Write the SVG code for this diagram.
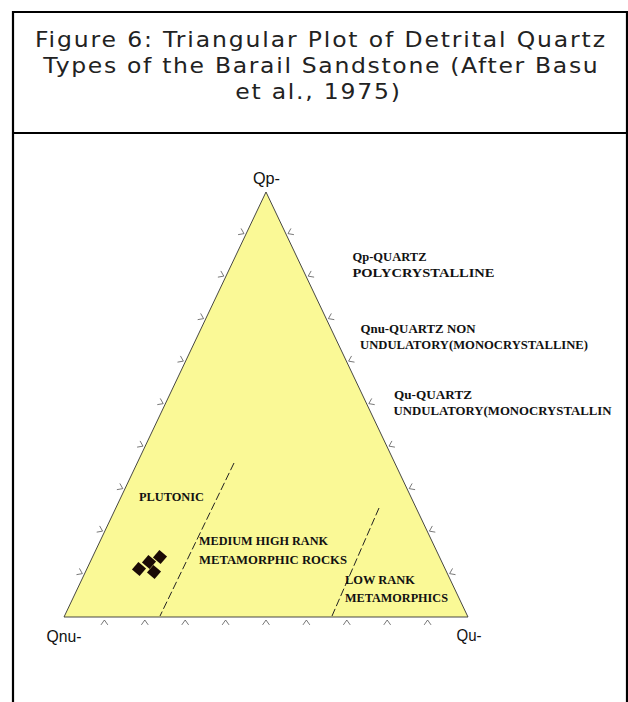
<svg xmlns="http://www.w3.org/2000/svg" xmlns:xlink="http://www.w3.org/1999/xlink" width="628" height="702" viewBox="0 0 628 702">
  <style>
    .frame { fill: none; stroke: #000; stroke-width: 2.2; }
    .title { font-family: "DejaVu Sans", "Liberation Sans", sans-serif; font-size: 21px; fill: #222; text-anchor: middle; }
    .tri { fill: #FAF996; stroke: #333; stroke-width: 0.9; }
    .tick { fill: none; stroke: #555; stroke-width: 0.8; }
    .bound { fill: none; stroke: #222; stroke-width: 1; stroke-dasharray: 8 3; }
    .apex { font-family: "Liberation Sans", Arial, sans-serif; font-size: 16px; fill: #111; }
    .lab { font-family: "Liberation Serif", "Times New Roman", serif; font-size: 12px; font-weight: bold; fill: #111; }
    .mk { fill: #1a0a05; }
  </style>
  <defs>
    <path id="tickL" class="tick" d="M-2.94,-5.21 L0,0 L-5.9,1.01"/>
    <path id="tickR" class="tick" d="M2.94,-5.21 L0,0 L5.9,1.01"/>
    <path id="tickB" class="tick" d="M-3.44,4.9 L0,0 L3.44,4.9"/>
    <rect id="diamond" x="-5" y="-5" width="10" height="10" transform="rotate(40)"/>
  </defs>
  <rect width="628" height="702" fill="#fff"/>

  <g id="frame">
    <path class="frame" d="M13,702 L13,12 L627,12 L627,702"/>
    <line class="frame" x1="13" y1="133" x2="627" y2="133"/>
  </g>

  <g id="title">
    <text class="title" transform="translate(320,47) scale(1.12,1)" textLength="509" lengthAdjust="spacing">Figure 6: Triangular Plot of Detrital Quartz</text>
    <text class="title" transform="translate(320.5,72.5) scale(1.12,1)" textLength="495" lengthAdjust="spacing">Types of the Barail Sandstone (After Basu</text>
    <text class="title" transform="translate(317.5,98.5) scale(1.12,1)" textLength="147" lengthAdjust="spacing">et al., 1975)</text>
  </g>

  <g id="plot">
    <polygon class="tri" points="266,192 468,617 64,617"/>
  </g>

  <g id="ticks">
    <use xlink:href="#tickL" x="82.39" y="573.64"/>
    <use xlink:href="#tickL" x="102.59" y="531.14"/>
    <use xlink:href="#tickL" x="122.79" y="488.64"/>
    <use xlink:href="#tickL" x="142.99" y="446.14"/>
    <use xlink:href="#tickL" x="163.19" y="403.64"/>
    <use xlink:href="#tickL" x="183.39" y="361.14"/>
    <use xlink:href="#tickL" x="203.59" y="318.64"/>
    <use xlink:href="#tickL" x="223.79" y="276.14"/>
    <use xlink:href="#tickL" x="243.99" y="233.64"/>
    <use xlink:href="#tickR" x="449.61" y="573.64"/>
    <use xlink:href="#tickR" x="429.41" y="531.14"/>
    <use xlink:href="#tickR" x="409.21" y="488.64"/>
    <use xlink:href="#tickR" x="389.01" y="446.14"/>
    <use xlink:href="#tickR" x="368.81" y="403.64"/>
    <use xlink:href="#tickR" x="348.61" y="361.14"/>
    <use xlink:href="#tickR" x="328.41" y="318.64"/>
    <use xlink:href="#tickR" x="308.21" y="276.14"/>
    <use xlink:href="#tickR" x="288.01" y="233.64"/>
    <use xlink:href="#tickB" x="104.4" y="620"/>
    <use xlink:href="#tickB" x="144.8" y="620"/>
    <use xlink:href="#tickB" x="185.2" y="620"/>
    <use xlink:href="#tickB" x="225.6" y="620"/>
    <use xlink:href="#tickB" x="266" y="620"/>
    <use xlink:href="#tickB" x="306.4" y="620"/>
    <use xlink:href="#tickB" x="346.8" y="620"/>
    <use xlink:href="#tickB" x="387.2" y="620"/>
    <use xlink:href="#tickB" x="427.6" y="620"/>
  </g>

  <g id="connectors">
    <line class="bound" x1="234" y1="463" x2="160" y2="616"/>
    <line class="bound" x1="379" y1="508" x2="332" y2="616"/>
  </g>

  <g id="apex-labels">
    <text class="apex" x="253" y="184" textLength="27" lengthAdjust="spacingAndGlyphs">Qp-</text>
    <text class="apex" x="46.5" y="641.5" textLength="35" lengthAdjust="spacingAndGlyphs">Qnu-</text>
    <text class="apex" x="456.5" y="640.5" textLength="25" lengthAdjust="spacingAndGlyphs">Qu-</text>
  </g>

  <g id="legend">
    <text class="lab" x="352.5" y="261" textLength="74" lengthAdjust="spacingAndGlyphs">Qp-QUARTZ</text>
    <text class="lab" x="352.5" y="277" textLength="142" lengthAdjust="spacingAndGlyphs">POLYCRYSTALLINE</text>
    <text class="lab" x="360.5" y="332.5" textLength="115" lengthAdjust="spacingAndGlyphs">Qnu-QUARTZ NON</text>
    <text class="lab" x="360" y="348.5" textLength="228" lengthAdjust="spacingAndGlyphs">UNDULATORY(MONOCRYSTALLINE)</text>
    <text class="lab" x="394" y="398.5" textLength="78" lengthAdjust="spacingAndGlyphs">Qu-QUARTZ</text>
    <text class="lab" x="393.5" y="414.5" textLength="218" lengthAdjust="spacingAndGlyphs">UNDULATORY(MONOCRYSTALLIN</text>
  </g>

  <g id="fields">
    <text class="lab" x="139" y="500.5" textLength="65" lengthAdjust="spacingAndGlyphs">PLUTONIC</text>
    <text class="lab" x="199" y="545" textLength="129" lengthAdjust="spacingAndGlyphs">MEDIUM HIGH RANK</text>
    <text class="lab" x="199" y="563.5" textLength="148" lengthAdjust="spacingAndGlyphs">METAMORPHIC ROCKS</text>
    <text class="lab" x="345" y="584" textLength="70" lengthAdjust="spacingAndGlyphs">LOW RANK</text>
    <text class="lab" x="345" y="602" textLength="103" lengthAdjust="spacingAndGlyphs">METAMORPHICS</text>
  </g>

  <g id="samples">
    <use xlink:href="#diamond" class="mk" transform="translate(139,569)"/>
    <use xlink:href="#diamond" class="mk" transform="translate(149,562)"/>
    <use xlink:href="#diamond" class="mk" transform="translate(160,557)"/>
    <use xlink:href="#diamond" class="mk" transform="translate(154,572)"/>
  </g>
</svg>
